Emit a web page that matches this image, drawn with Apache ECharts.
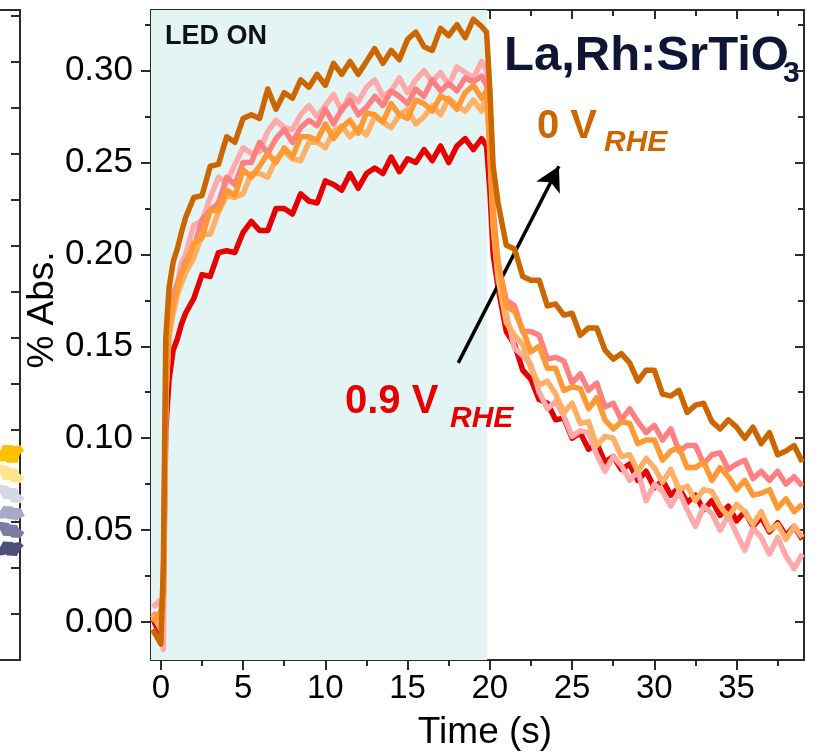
<!DOCTYPE html>
<html><head><meta charset="utf-8">
<script src="https://cdn.jsdelivr.net/npm/echarts@6/dist/echarts.min.js"></script>
<style>html,body{margin:0;padding:0;background:#fff}#c{width:826px;height:754px}</style>
</head><body><div id="c"></div>
<script>
// ---- data ----
const time = [-0.5, 0, 0.15, 0.3, 0.5, 0.75, 1, 1.25, 1.5, 2, 2.5, 3, 3.5, 4, 4.5, 5, 5.5, 6, 6.5, 7, 7.5, 8, 8.5, 9, 9.5, 10, 10.5, 11, 11.5, 12, 12.5, 13, 13.5, 14, 14.5, 15, 15.5, 16, 16.5, 17, 17.5, 18, 18.5, 19, 19.5, 19.8, 20, 20.2, 20.5, 21, 21.5, 22, 22.5, 23, 23.5, 24, 24.5, 25, 25.5, 26, 26.5, 27, 27.5, 28, 28.5, 29, 29.5, 30, 30.5, 31, 31.5, 32, 32.5, 33, 33.5, 34, 34.5, 35, 35.5, 36, 36.5, 37, 37.5, 38, 38.5, 39];

const abs09V = [0.002, -0.008, 0.02, 0.105, 0.132, 0.148, 0.154, 0.162, 0.168,
  0.176, 0.189, 0.188, 0.201, 0.202, 0.201, 0.212, 0.218, 0.213, 0.213, 0.225, 0.225, 0.222, 0.233, 0.229, 0.228, 0.240, 0.238, 0.235, 0.244, 0.236, 0.244, 0.247, 0.244, 0.253, 0.245, 0.252, 0.250, 0.257, 0.251, 0.259, 0.250, 0.259, 0.263, 0.257, 0.263, 0.259,
  0.235, 0.2,
  0.182, 0.158, 0.151, 0.137, 0.132, 0.121, 0.119, 0.11, 0.111, 0.1, 0.103, 0.094, 0.097, 0.087, 0.09, 0.083, 0.086, 0.077, 0.082, 0.073, 0.077, 0.069, 0.073, 0.065, 0.069, 0.061, 0.066, 0.058, 0.063, 0.055, 0.06, 0.052, 0.057, 0.049, 0.054, 0.047, 0.052, 0.045];

const absLightPink = [0.008, 0.012, -0.015, 0.12, 0.16, 0.175, 0.184, 0.195, 0.2,
  0.216, 0.218, 0.231, 0.242, 0.239, 0.249, 0.258, 0.255, 0.256, 0.267, 0.273, 0.269, 0.268, 0.276, 0.281, 0.275, 0.281, 0.287, 0.278, 0.287, 0.283, 0.291, 0.295, 0.286, 0.289, 0.296, 0.288, 0.295, 0.300, 0.294, 0.299, 0.292, 0.302, 0.299, 0.296, 0.305, 0.300,
  0.27, 0.22,
  0.19, 0.168, 0.149, 0.145, 0.14, 0.125, 0.116, 0.12, 0.112, 0.101, 0.104, 0.103, 0.091, 0.082, 0.09, 0.085, 0.077, 0.082, 0.066, 0.075, 0.071, 0.063, 0.071, 0.061, 0.052, 0.063, 0.059, 0.05, 0.058, 0.048, 0.039, 0.051, 0.046, 0.037, 0.046, 0.036, 0.029, 0.037];

const absSalmon = [0.005, 0.0, 0.01, 0.13, 0.165, 0.178, 0.184, 0.19, 0.196,
  0.203, 0.219, 0.224, 0.228, 0.242, 0.238, 0.25, 0.25, 0.261, 0.255, 0.263, 0.268, 0.261, 0.269, 0.273, 0.27, 0.279, 0.271, 0.279, 0.284, 0.276, 0.28, 0.286, 0.281, 0.289, 0.286, 0.282, 0.29, 0.286, 0.295, 0.289, 0.293, 0.289, 0.296, 0.294, 0.297, 0.292,
  0.27, 0.225,
  0.195, 0.175, 0.172, 0.158, 0.158, 0.156, 0.143, 0.144, 0.142, 0.13, 0.135, 0.126, 0.13, 0.117, 0.119, 0.11, 0.116, 0.109, 0.103, 0.107, 0.099, 0.105, 0.093, 0.096, 0.096, 0.086, 0.091, 0.092, 0.083, 0.086, 0.088, 0.078, 0.082, 0.077, 0.082, 0.075, 0.079, 0.074];

const absLightOrange = [0.004, -0.004, 0.012, 0.125, 0.155, 0.168, 0.178, 0.184, 0.19,
  0.198, 0.211, 0.211, 0.223, 0.232, 0.231, 0.233, 0.244, 0.244, 0.242, 0.252, 0.256, 0.252, 0.251, 0.261, 0.261, 0.258, 0.267, 0.27, 0.264, 0.269, 0.265, 0.275, 0.272, 0.269, 0.276, 0.279, 0.271, 0.275, 0.281, 0.276, 0.285, 0.281, 0.278, 0.284, 0.278, 0.287,
  0.255, 0.215,
  0.187, 0.163, 0.156, 0.151, 0.138, 0.129, 0.131, 0.124, 0.114, 0.119, 0.108, 0.109, 0.096, 0.101, 0.1, 0.09, 0.091, 0.082, 0.089, 0.084, 0.076, 0.083, 0.072, 0.074, 0.066, 0.072, 0.071, 0.063, 0.057, 0.064, 0.06, 0.053, 0.06, 0.05, 0.053, 0.045, 0.052, 0.046];

const absOrange = [0.0, 0.006, 0.015, 0.13, 0.16, 0.172, 0.182, 0.19, 0.194,
  0.206, 0.209, 0.224, 0.224, 0.235, 0.232, 0.246, 0.242, 0.248, 0.255, 0.25, 0.258, 0.253, 0.264, 0.264, 0.262, 0.271, 0.263, 0.269, 0.273, 0.266, 0.277, 0.276, 0.272, 0.282, 0.276, 0.274, 0.284, 0.282, 0.278, 0.286, 0.284, 0.279, 0.288, 0.292, 0.285, 0.289,
  0.26, 0.22,
  0.196, 0.172, 0.169, 0.159, 0.147, 0.15, 0.138, 0.138, 0.126, 0.128, 0.127, 0.116, 0.122, 0.11, 0.105, 0.109, 0.108, 0.097, 0.099, 0.099, 0.088, 0.093, 0.095, 0.084, 0.084, 0.087, 0.077, 0.084, 0.079, 0.072, 0.077, 0.069, 0.07, 0.072, 0.062, 0.067, 0.06, 0.064];

const abs0V = [-0.004, -0.012, 0.03, 0.155, 0.182, 0.196, 0.203, 0.212, 0.22,
  0.231, 0.232, 0.248, 0.249, 0.264, 0.261, 0.274, 0.276, 0.274, 0.29, 0.279, 0.288, 0.285, 0.295, 0.291, 0.298, 0.292, 0.304, 0.298, 0.305, 0.298, 0.305, 0.312, 0.304, 0.311, 0.306, 0.317, 0.321, 0.313, 0.311, 0.323, 0.319, 0.325, 0.318, 0.328, 0.324, 0.321,
  0.29, 0.248,
  0.228, 0.205, 0.203, 0.188, 0.186, 0.186, 0.172, 0.173, 0.167, 0.168, 0.156, 0.16, 0.16, 0.148, 0.143, 0.146, 0.141, 0.131, 0.137, 0.137, 0.124, 0.123, 0.126, 0.114, 0.118, 0.119, 0.109, 0.105, 0.11, 0.106, 0.1, 0.106, 0.097, 0.103, 0.091, 0.093, 0.096, 0.087];

// partial neighbouring panel (left edge)
const leftTime = [9, 9.2, 9.4, 9.6, 9.8, 10];
const leftYellow = [0.089, 0.084, 0.091, 0.083, 0.09, 0.087];
const leftLightYellow = [0.077, 0.079, 0.074, 0.078, 0.073, 0.076];
const leftLavender = [0.066, 0.068, 0.064, 0.067, 0.062, 0.065];
const leftLilac = [0.056, 0.054, 0.057, 0.053, 0.056, 0.052];
const leftSlate = [0.046, 0.048, 0.044, 0.047, 0.043, 0.046];
const leftNavy = [0.036, 0.034, 0.038, 0.033, 0.037, 0.035];

const xMajor = [0, 5, 10, 15, 20, 25, 30, 35];
const xMinor = [2.5, 7.5, 12.5, 17.5, 22.5, 27.5, 32.5, 37.5];
const yMajor = [0, 0.05, 0.1, 0.15, 0.2, 0.25, 0.3];
const yMinor = [0.025, 0.075, 0.125, 0.175, 0.225, 0.275, 0.325];
const leftTicks = [0, 0.025, 0.05, 0.075, 0.1, 0.125, 0.15, 0.175, 0.2, 0.225, 0.25, 0.275, 0.3, 0.325];

const ledOn = [-0.6, 19.84];
const arrowFrom = [18.08, 0.141];
const arrowTo = [24.2, 0.248];

// ---- chart ----
const FONT = '"Liberation Sans", Arial, sans-serif';
const pair = (xs, ys) => xs.map((x, i) => [x, ys[i]]);
const XMIN = -0.6, XMAX = 39.1, YMIN = -0.0207, YMAX = 0.333;
const lineC = '#2b2b2b';

function xAx(pos, ticks, len, inside, withLabel, line) {
  return {
    type: 'value', gridIndex: 0, position: pos, min: XMIN, max: XMAX, offset: 0,
    axisLine: { show: line, onZero: false, lineStyle: { color: lineC, width: 2 } },
    axisTick: { show: true, inside: inside, length: len, customValues: ticks, lineStyle: { color: lineC, width: 2 } },
    axisLabel: withLabel ? { show: true, customValues: ticks, fontSize: 33, fontFamily: FONT, color: '#000', margin: 12 } : { show: false },
    splitLine: { show: false }
  };
}
function yAx(pos, ticks, len, inside, withLabel, line) {
  return {
    type: 'value', gridIndex: 0, position: pos, min: YMIN, max: YMAX, offset: 0,
    axisLine: { show: line, onZero: false, lineStyle: { color: lineC, width: 2 } },
    axisTick: { show: true, inside: inside, length: len, customValues: ticks, lineStyle: { color: lineC, width: 2 } },
    axisLabel: withLabel ? { show: true, customValues: ticks, fontSize: 35, fontFamily: FONT, color: '#000', margin: 18, formatter: v => v.toFixed(2) } : { show: false },
    splitLine: { show: false }
  };
}

const xAxes = [
  xAx('bottom', xMajor, 10, false, true, true),
  xAx('bottom', xMinor, 6, false, false, false),
  xAx('top', xMajor, 9, true, false, true),
  xAx('top', xMinor, 6, true, false, false),
  { type: 'value', gridIndex: 1, position: 'bottom', min: 9, max: 10,
    axisLine: { show: true, onZero: false, lineStyle: { color: lineC, width: 2 } }, axisTick: { show: false }, axisLabel: { show: false }, splitLine: { show: false } },
  { type: 'value', gridIndex: 1, position: 'top', min: 9, max: 10,
    axisLine: { show: true, onZero: false, lineStyle: { color: lineC, width: 2 } }, axisTick: { show: false }, axisLabel: { show: false }, splitLine: { show: false } }
];
const yAxes = [
  yAx('left', yMajor, 10, false, true, true),
  yAx('left', yMinor, 6, false, false, false),
  yAx('right', yMajor, 9, true, false, true),
  yAx('right', yMinor, 6, true, false, false),
  { type: 'value', gridIndex: 1, position: 'right', min: -0.025, max: 0.3283,
    axisLine: { show: true, onZero: false, lineStyle: { color: lineC, width: 2 } },
    axisTick: { show: true, inside: true, length: 9, customValues: leftTicks, lineStyle: { color: lineC, width: 2 } },
    axisLabel: { show: false }, splitLine: { show: false } }
];

function trace(name, ys, color, z) {
  return { name, type: 'line', xAxisIndex: 0, yAxisIndex: 0, data: pair(time, ys), showSymbol: false, symbol: 'none',
    lineStyle: { color, width: 5.5, join: 'round' }, itemStyle: { color }, z, silent: true };
}
function leftTrace(ys, color) {
  return { type: 'line', xAxisIndex: 4, yAxisIndex: 4, data: pair(leftTime, ys), symbol: 'none',
    lineStyle: { color, width: 11 }, z: 3, silent: true, clip: true };
}

const option = {
  animation: false,
  backgroundColor: '#ffffff',
  grid: [
    { left: 151, right: 22, top: 10, bottom: 94 },
    { left: 0, width: 20, top: 10, bottom: 94 }
  ],
  xAxis: xAxes,
  yAxis: yAxes,
  series: [
    { type: 'line', xAxisIndex: 0, yAxisIndex: 0, data: [], z: 1, silent: true,
      markArea: { silent: true, itemStyle: { color: '#e2f4f4' }, data: [[{ xAxis: ledOn[0] }, { xAxis: ledOn[1] }]] } },
    trace('0.9 V', abs09V, '#e60000', 2),
    trace('light pink', absLightPink, '#ffaaaa', 3),
    trace('salmon', absSalmon, '#ff8080', 4),
    trace('light orange', absLightOrange, '#ffb066', 5),
    trace('orange', absOrange, '#ff9933', 6),
    trace('0 V', abs0V, '#cc6600', 7),
    { type: 'line', xAxisIndex: 0, yAxisIndex: 0, data: [], z: 10, silent: true,
      markLine: { silent: true, symbol: ['none', 'arrow'], symbolSize: [20, 24], label: { show: false },
        lineStyle: { color: '#000', width: 3.5, type: 'solid' },
        data: [[{ coord: arrowFrom }, { coord: arrowTo }]] } },
    leftTrace(leftNavy, '#4d4d7a'),
    leftTrace(leftSlate, '#7a7aa4'),
    leftTrace(leftLilac, '#a8a8c8'),
    leftTrace(leftLavender, '#d6d6e6'),
    leftTrace(leftLightYellow, '#ffe38f'),
    leftTrace(leftYellow, '#ffc000')
  ],
  graphic: [
    { type: 'text', x: 43, y: 310, rotation: Math.PI / 2, z: 20, style: { text: '% Abs.', font: '37px ' + FONT, fill: '#000', align: 'center', verticalAlign: 'middle' } },
    { type: 'text', x: 485, y: 733, z: 20, style: { text: 'Time (s)', font: '37px ' + FONT, fill: '#000', align: 'center', verticalAlign: 'middle' } },
    { type: 'text', x: 165, y: 37, z: 20, style: { text: 'LED ON', font: 'bold 27px ' + FONT, fill: '#111', verticalAlign: 'middle' } },
    { type: 'text', x: 504, y: 56, z: 20, style: { text: 'La,Rh:SrTiO', font: 'bold 49px ' + FONT, fill: '#0f1535', verticalAlign: 'middle' } },
    { type: 'text', x: 783, y: 74, z: 20, style: { text: '3', font: 'bold 30px ' + FONT, fill: '#0f1535', verticalAlign: 'middle' } },
    { type: 'text', x: 537, y: 127, z: 20, style: { text: '0 V', font: 'bold 40px ' + FONT, fill: '#cc6600', verticalAlign: 'middle' } },
    { type: 'text', x: 604, y: 143, z: 20, style: { text: 'RHE', font: 'italic bold 30px ' + FONT, fill: '#cc6600', verticalAlign: 'middle' } },
    { type: 'text', x: 345, y: 402, z: 20, style: { text: '0.9 V', font: 'bold 40px ' + FONT, fill: '#e60000', verticalAlign: 'middle' } },
    { type: 'text', x: 450, y: 419, z: 20, style: { text: 'RHE', font: 'italic bold 30px ' + FONT, fill: '#e60000', verticalAlign: 'middle' } }
  ]
};

const chart = echarts.init(document.getElementById('c'), null, { renderer: 'canvas' });
chart.setOption(option);
</script>
</body></html>
